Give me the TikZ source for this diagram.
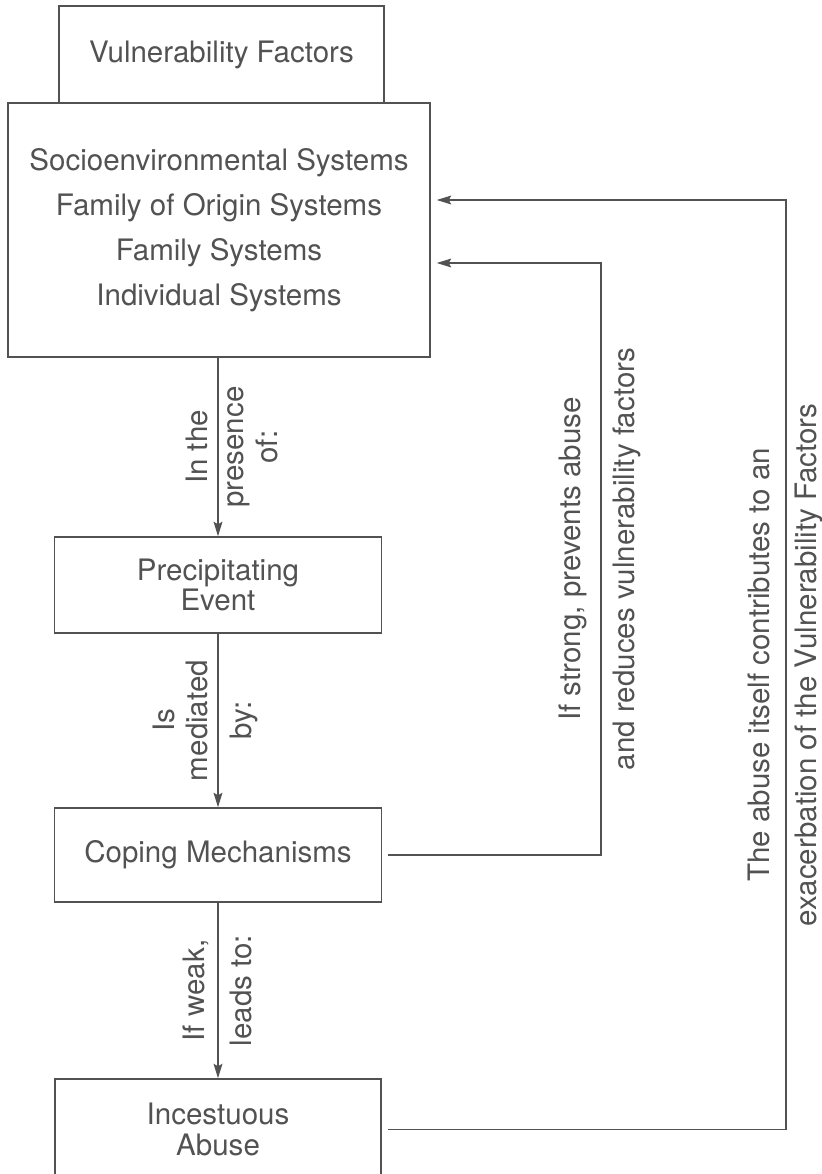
\documentclass[tikz,border=0pt]{standalone}
\usepackage{fontspec}
\setmainfont{TeX Gyre Heros}
\usetikzlibrary{arrows.meta}
\colorlet{ink}{black!68}

\begin{document}
\begin{tikzpicture}[>={Stealth[length=3.6mm,width=2.2mm,inset=0.6mm]}, color=ink, line width=1.1pt,
    box/.style={draw, align=center, inner sep=0pt, font=\fontsize{21}{21.5}\selectfont},
    tagL/.style={rotate=90, anchor=south, align=center, inner sep=2.2mm, font=\fontsize{21}{24}\selectfont},
    tagR/.style={rotate=90, anchor=north, align=center, inner sep=2.2mm, execute at begin node=\strut, font=\fontsize{21}{24}\selectfont}]
    % page frame
    \clip (0,0) rectangle (20.55,-29.35);

    % boxes
    \node[box, minimum width=8.125cm, minimum height=2.425cm] (vf) at (5.5375,-1.3625) {Vulnerability Factors};
    \node[box, minimum width=10.55cm, minimum height=6.35cm, font=\fontsize{21}{32}\selectfont] (main) at (5.475,-5.75)
        {Socioenvironmental Systems\\Family of Origin Systems\\Family Systems\\Individual Systems};
    \node[box, minimum width=8.175cm, minimum height=2.4cm] (event) at (5.45,-14.625) {Precipitating\\Event};
    \node[box, minimum width=8.175cm, minimum height=2.35cm] (coping) at (5.45,-21.375) {Coping Mechanisms};
    \node[box, minimum width=8.15cm, minimum height=2.525cm] (abuse) at (5.45,-28.2375) {Incestuous\\Abuse};

    % main chain
    \draw[->] (main.south -| event.north) -- (event.north)
        node[midway, tagL] {In the} node[midway, tagR] {presence\\of:};
    \draw[->] (event.south) -- (coping.north)
        node[midway, tagL] {Is\\mediated} node[midway, tagR] {by:};
    \draw[->] (coping.south) -- (abuse.north)
        node[midway, tagL] {If weak,} node[midway, tagR] {leads to:};

    % feedback loops
    \coordinate (strongbot) at (15.025,-21.375);
    \coordinate (strongtop) at (15.025,-6.575);
    \draw[->, shorten <=1.5mm, shorten >=1.5mm] (coping.east) -- (strongbot) -- (strongtop)
        node[midway, tagL, inner sep=3.2mm] {If strong, prevents abuse}
        node[midway, tagR] {and reduces vulnerability factors}
        -- (main.east |- strongtop);

    \coordinate (worsebot) at (19.65,-28.2375);
    \coordinate (worsetop) at (19.65,-5.0);
    \draw[->, shorten <=1.5mm, shorten >=1.5mm] (abuse.east) -- (worsebot) -- (worsetop)
        node[midway, tagL, inner sep=3.8mm] {The abuse itself contributes to an}
        node[midway, tagR, inner sep=1.5mm] {exacerbation of the Vulnerability Factors}
        -- (main.east |- worsetop);
\end{tikzpicture}
\end{document}
